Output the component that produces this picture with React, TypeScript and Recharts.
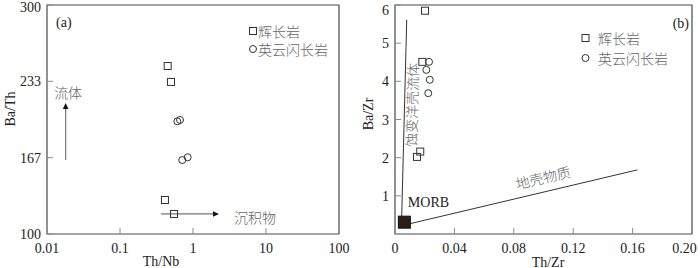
import React from 'react';
import { ScatterChart, Scatter, XAxis, YAxis, ReferenceArea, ReferenceLine, Legend } from 'recharts';

const SERIF = '"Liberation Serif", "Times New Roman", "DejaVu Serif", serif';
const CJK = '"Noto Sans CJK SC", "Noto Sans CJK JP", sans-serif';
const INK = '#222';
const FRAME = '#4a4a4a';
const TICKC = '#8a8a8a';
const CJKC = '#666';

const serifStyle = { fontFamily: SERIF, fontSize: 14 } as any;
const cjkStyle = { fontFamily: CJK, fontSize: 14, fontWeight: 300 } as any;

// ---------- data ----------
const seriesNames = ['辉长岩', '英云闪长岩'];

// (a) Th/Nb vs Ba/Th
const thNbTicks = [0.01, 0.1, 1, 10, 100];
const baThTicks = [100, 166.67, 233.33, 300];
const gabbroA = [
  { x: 0.45, y: 246.7 },
  { x: 0.5, y: 232.8 },
  { x: 0.413, y: 129.7 },
  { x: 0.55, y: 117.5 },
];
const tonaliteA = [
  { x: 0.61, y: 198.4 },
  { x: 0.664, y: 199.6 },
  { x: 0.713, y: 164.6 },
  { x: 0.846, y: 167.0 },
];
const fluidArrow = [
  { x: 0.018, y: 164.6 },
  { x: 0.018, y: 214.4 },
];
const sedimentArrow = [
  { x: 0.365, y: 117.5 },
  { x: 2.27, y: 117.5 },
];

// (b) Th/Zr vs Ba/Zr
const thZrTicks = [0, 0.04, 0.08, 0.12, 0.16, 0.2];
const baZrTicks = [1, 2, 3, 4, 5, 6];
const gabbroB = [
  { x: 0.0202, y: 5.85 },
  { x: 0.0184, y: 4.51 },
  { x: 0.0148, y: 2.02 },
  { x: 0.017, y: 2.16 },
];
const tonaliteB = [
  { x: 0.0229, y: 4.51 },
  { x: 0.0211, y: 4.3 },
  { x: 0.0234, y: 4.04 },
  { x: 0.0224, y: 3.69 },
];
const morb = [{ x: 0.0063, y: 0.31 }];
const fluidTrend = [
  { x: 0.0045, y: 0.45 },
  { x: 0.0079, y: 5.61 },
];
const crustTrend = [
  { x: 0.0101, y: 0.27 },
  { x: 0.1632, y: 1.68 },
];

// ---------- helpers ----------
const XTick = (props: any) => {
  const { x, y, payload, fmt, maxRight } = props;
  const label = fmt(payload.value);
  const halfW = label.length * 3.6;
  const lx = maxRight != null ? Math.min(x, maxRight - halfW) : x;
  return (
    <g>
      <line x1={x} y1={y} x2={x} y2={y - 6} stroke={TICKC} strokeWidth={1} />
      <text x={lx} y={y + 19} textAnchor="middle" style={serifStyle} fill={INK}>
        {label}
      </text>
    </g>
  );
};

const YTick = (props: any) => {
  const { x, y, payload, fmt, minY } = props;
  const ly = Math.max(y, minY);
  return (
    <g>
      <line x1={x} y1={y} x2={x + 6} y2={y} stroke={TICKC} strokeWidth={1} />
      <text x={x - 6} y={ly + 5} textAnchor="end" style={serifStyle} fill={INK}>
        {fmt(payload.value)}
      </text>
    </g>
  );
};

const AxisTitle = (props: any) => {
  const { tx, ty, text, vertical } = props;
  return (
    <text
      x={tx}
      y={ty}
      textAnchor="middle"
      dominantBaseline="central"
      transform={vertical ? `rotate(-90 ${tx} ${ty})` : undefined}
      style={serifStyle}
      fill={INK}
    >
      {text}
    </text>
  );
};

const squareShape = (p: any) => (
  <rect x={p.cx - 3.5} y={p.cy - 3.5} width={7} height={7} fill="none" stroke="#333" strokeWidth={1} />
);
const circleShape = (p: any) => (
  <circle cx={p.cx} cy={p.cy} r={3.5} fill="none" stroke="#333" strokeWidth={1} />
);
const morbShape = (p: any) => (
  <g>
    <rect x={p.cx - 6} y={p.cy - 6} width={12} height={12} fill="#2b1e17" stroke="#111" strokeWidth={1} />
    <text x={p.cx + 3.5} y={p.cy - 15.5} style={serifStyle} fill={INK}>
      MORB
    </text>
  </g>
);

const makeArrow = (label: string, ldx: number, ldy: number) => (p: any) => {
  const { x1, y1, x2, y2 } = p;
  const len = Math.hypot(x2 - x1, y2 - y1) || 1;
  const ux = (x2 - x1) / len;
  const uy = (y2 - y1) / len;
  const head = 6;
  const hw = 2.8;
  const bx = x2 - ux * head;
  const by = y2 - uy * head;
  const pts = `${x2},${y2} ${bx - uy * hw},${by + ux * hw} ${bx + uy * hw},${by - ux * hw}`;
  return (
    <g>
      <line x1={x1} y1={y1} x2={bx} y2={by} stroke="#777" strokeWidth={1.2} />
      <polygon points={pts} fill="#111" />
      <text x={x2 + ldx} y={y2 + ldy} textAnchor="middle" dominantBaseline="central" style={cjkStyle} fill={CJKC}>
        {label}
      </text>
    </g>
  );
};

const makeTrend = (label: string, frac: number, off: number) => (p: any) => {
  const { x1, y1, x2, y2 } = p;
  const len = Math.hypot(x2 - x1, y2 - y1) || 1;
  const ux = (x2 - x1) / len;
  const uy = (y2 - y1) / len;
  const nx = uy;
  const ny = -ux;
  const px = x1 + (x2 - x1) * frac + nx * off;
  const py = y1 + (y2 - y1) * frac + ny * off;
  const ang = (Math.atan2(y2 - y1, x2 - x1) * 180) / Math.PI;
  return (
    <g>
      <line x1={x1} y1={y1} x2={x2} y2={y2} stroke="#333" strokeWidth={1} />
      <text
        x={px}
        y={py}
        textAnchor="middle"
        dominantBaseline="central"
        transform={`rotate(${ang} ${px} ${py})`}
        style={cjkStyle}
        fill={CJKC}
      >
        {label}
      </text>
    </g>
  );
};

const makeLegend = (mx: number, tx: number, y0: number, gap: number) => () => (
  <svg width={350} height={268} style={{ position: 'absolute', left: 0, top: 0, overflow: 'visible' }}>
    <rect x={mx - 3.5} y={y0 - 3.5} width={7} height={7} fill="none" stroke="#333" />
    <text x={tx} y={y0} dominantBaseline="central" style={cjkStyle} fill={CJKC}>
      {seriesNames[0]}
    </text>
    <circle cx={mx} cy={y0 + gap} r={3.5} fill="none" stroke="#333" />
    <text x={tx} y={y0 + gap} dominantBaseline="central" style={cjkStyle} fill={CJKC}>
      {seriesNames[1]}
    </text>
  </svg>
);

const panelLabel = (text: string, px: number, py: number, anchor: string) => (p: any) => (
  <text x={px} y={py} textAnchor={anchor} dominantBaseline="central" style={serifStyle} fill={INK}>
    {text}
  </text>
);

const legendWrap = { position: 'absolute', left: 0, top: 0, width: 350, height: 268, pointerEvents: 'none' } as any;

export default function App() {
  return (
    <div style={{ position: 'absolute', left: 0, top: 0, width: 700, height: 268, background: '#fff', overflow: 'hidden' }}>
      <div style={{ position: 'absolute', left: 0, top: 0 }}>
        <ScatterChart width={350} height={268} margin={{ top: 5, right: 11, bottom: 0, left: 0 }}>
          <XAxis
            dataKey="x"
            type="number"
            scale="log"
            domain={[0.01, 100]}
            ticks={thNbTicks}
            allowDataOverflow
            axisLine={false}
            tickLine={false}
            tickSize={0}
            tickMargin={0}
            height={34}
            interval={0}
            tick={(p: any) => <XTick {...p} fmt={(v: number) => String(v)} />}
            label={<AxisTitle tx={161} ty={261} text="Th/Nb" />}
          />
          <YAxis
            dataKey="y"
            type="number"
            domain={[100, 300]}
            ticks={baThTicks}
            allowDataOverflow
            axisLine={false}
            tickLine={false}
            tickSize={0}
            tickMargin={0}
            width={47}
            interval={0}
            tick={(p: any) => <YTick {...p} minY={7} fmt={(v: number) => String(Math.round(v))} />}
            label={<AxisTitle tx={10} ty={109} text="Ba/Th" vertical />}
          />
          <ReferenceArea
            x1={0.01}
            x2={100}
            y1={100}
            y2={300}
            fill="none"
            stroke={FRAME}
            strokeWidth={1.2}
            label={panelLabel('(a)', 56, 22, 'start')}
          />
          <ReferenceLine segment={fluidArrow} shape={makeArrow('流体', 2.5, -11)} />
          <ReferenceLine segment={sedimentArrow} shape={makeArrow('沉积物', 36, 3)} />
          <Scatter name={seriesNames[0]} data={gabbroA} shape={squareShape} isAnimationActive={false} />
          <Scatter name={seriesNames[1]} data={tonaliteA} shape={circleShape} isAnimationActive={false} />
          <Legend
            layout="vertical"
            align="center"
            verticalAlign="middle"
            wrapperStyle={legendWrap}
            content={makeLegend(253, 258, 31, 18)}
          />
        </ScatterChart>
      </div>
      <div style={{ position: 'absolute', left: 350, top: 0 }}>
        <ScatterChart width={350} height={268} margin={{ top: 5, right: 8, bottom: 0, left: 0 }}>
          <XAxis
            dataKey="x"
            type="number"
            domain={[0, 0.2]}
            ticks={thZrTicks}
            allowDataOverflow
            axisLine={false}
            tickLine={false}
            tickSize={0}
            tickMargin={0}
            height={34}
            interval={0}
            tick={(p: any) => <XTick {...p} maxRight={349} fmt={(v: number) => (v === 0 ? '0' : v.toFixed(2))} />}
            label={<AxisTitle tx={198} ty={262} text="Th/Zr" />}
          />
          <YAxis
            dataKey="y"
            type="number"
            domain={[0, 6]}
            ticks={baZrTicks}
            allowDataOverflow
            axisLine={false}
            tickLine={false}
            tickSize={0}
            tickMargin={0}
            width={45}
            interval={0}
            tick={(p: any) => <YTick {...p} minY={10} fmt={(v: number) => String(v)} />}
            label={<AxisTitle tx={18} ty={114} text="Ba/Zr" vertical />}
          />
          <ReferenceArea
            x1={0}
            x2={0.2}
            y1={0}
            y2={6}
            fill="none"
            stroke={FRAME}
            strokeWidth={1.2}
            label={panelLabel('(b)', 339, 23, 'end')}
          />
          <ReferenceLine segment={fluidTrend} shape={makeTrend('蚀变洋壳流体', 0.57, -7)} />
          <ReferenceLine segment={crustTrend} shape={makeTrend('地壳物质', 0.6, 14.5)} />
          <Scatter data={morb} shape={morbShape} isAnimationActive={false} legendType="none" />
          <Scatter name={seriesNames[0]} data={gabbroB} shape={squareShape} isAnimationActive={false} />
          <Scatter name={seriesNames[1]} data={tonaliteB} shape={circleShape} isAnimationActive={false} />
          <Legend
            layout="vertical"
            align="center"
            verticalAlign="middle"
            wrapperStyle={legendWrap}
            content={makeLegend(235.5, 248, 38, 20)}
          />
        </ScatterChart>
      </div>
    </div>
  );
}
